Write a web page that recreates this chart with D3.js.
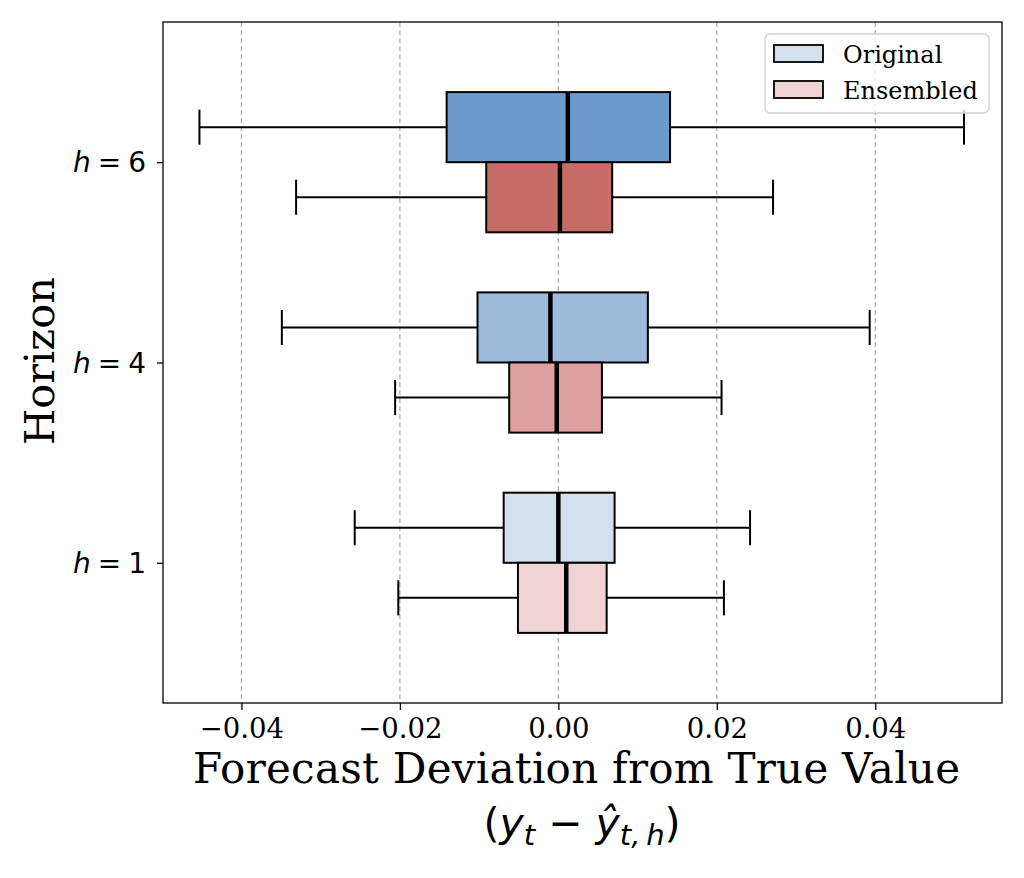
<!DOCTYPE html>
<html lang="en">
<head>
    <meta charset="UTF-8">
    <title>Forecast Deviation by Horizon</title>
    <script src="https://d3js.org/d3.v7.min.js"></script>
    <style>
        body { margin: 0; background: #fff; }
        svg { display: block; }
        .serif { font-family: "DejaVu Serif", serif; }
        .sans { font-family: "DejaVu Sans", sans-serif; }
    </style>
</head>
<body>
<svg width="1024" height="878"></svg>
<script>
    // horizons, top to bottom, and their position on the category axis
    const horizons = ["6", "4", "1"];
    const positions = [3, 2, 1];

    // [lower whisker, Q1, median, Q3, upper whisker]
    const originalStats = [
        [-0.0453, -0.0141, 0.0012, 0.0141, 0.0512],
        [-0.0349, -0.0102, -0.0010, 0.0113, 0.0393],
        [-0.0257, -0.0069, 0.0000, 0.0071, 0.0242]
    ];
    const ensembledStats = [
        [-0.0331, -0.0091, 0.0002, 0.0068, 0.0271],
        [-0.0206, -0.0062, -0.0002, 0.0055, 0.0206],
        [-0.0202, -0.0051, 0.0010, 0.0061, 0.0209]
    ];
    const originalColors = ["#6a9bcb", "#9dbcdc", "#d3e0f0"];
    const ensembledColors = ["#c86c67", "#dda09e", "#f0d3d4"];

    const xTicks = [-0.04, -0.02, 0.00, 0.02, 0.04];
    const legendLabels = ["Original", "Ensembled"];

    const svg = d3.select("svg");
    const margin = {top: 22, right: 22, bottom: 175, left: 163};
    const width = 1024 - margin.left - margin.right;
    const height = 878 - margin.top - margin.bottom;
    const g = svg.append("g").attr("transform", `translate(${margin.left},${margin.top})`);

    const x = d3.scaleLinear().domain([-0.0499, 0.0560]).range([0, width]);
    const y = d3.scaleLinear().domain([0.3, 3.7]).range([height, 0]);
    const boxW = 0.35; // box thickness in category units

    // vertical dashed grid
    g.selectAll(".grid").data(xTicks).enter().append("line")
        .attr("x1", d => x(d)).attr("x2", d => x(d))
        .attr("y1", 0).attr("y2", height)
        .attr("stroke", "#b0b0b0").attr("stroke-width", 1.3)
        .attr("stroke-dasharray", "5,3");

    // one box per series and horizon
    function drawBoxes(stats, colors, offset) {
        stats.forEach((s, i) => {
            const c = positions[i] + offset; // centre of this box
            const top = y(c + boxW / 2), bot = y(c - boxW / 2), mid = y(c);
            const capTop = y(c + boxW / 4), capBot = y(c - boxW / 4);
            const bg = g.append("g");
            // whiskers
            bg.append("line").attr("x1", x(s[0])).attr("x2", x(s[1])).attr("y1", mid).attr("y2", mid);
            bg.append("line").attr("x1", x(s[3])).attr("x2", x(s[4])).attr("y1", mid).attr("y2", mid);
            bg.append("line").attr("x1", x(s[0])).attr("x2", x(s[0])).attr("y1", capTop).attr("y2", capBot);
            bg.append("line").attr("x1", x(s[4])).attr("x2", x(s[4])).attr("y1", capTop).attr("y2", capBot);
            bg.selectAll("line").attr("stroke", "#000").attr("stroke-width", 2);
            // box
            bg.append("rect")
                .attr("x", x(s[1])).attr("y", top)
                .attr("width", x(s[3]) - x(s[1])).attr("height", bot - top)
                .attr("fill", colors[i]).attr("stroke", "#000").attr("stroke-width", 2);
            // median
            bg.append("line")
                .attr("x1", x(s[2])).attr("x2", x(s[2]))
                .attr("y1", top).attr("y2", bot)
                .attr("stroke", "#000").attr("stroke-width", 4.5);
        });
    }
    drawBoxes(originalStats, originalColors, boxW / 2);
    drawBoxes(ensembledStats, ensembledColors, -boxW / 2);

    // frame
    g.append("rect").attr("width", width).attr("height", height)
        .attr("fill", "none").attr("stroke", "#000").attr("stroke-width", 1.3);

    // x axis
    const xAxis = g.append("g")
        .attr("transform", `translate(0,${height})`)
        .call(d3.axisBottom(x).tickValues(xTicks).tickSize(7).tickPadding(8)
            .tickFormat(d => d3.format(".2f")(d).replace("-", "\u2212")));
    xAxis.select(".domain").remove();
    xAxis.selectAll("line").attr("stroke-width", 1.3);
    xAxis.selectAll("text").attr("class", "serif").attr("font-size", 27.5).attr("fill", "#000");

    // y axis with h = n labels
    const yAxis = g.append("g").call(d3.axisLeft(y).tickValues(positions).tickSize(6).tickFormat(""));
    yAxis.select(".domain").remove();
    yAxis.selectAll("line").attr("stroke-width", 1.3);
    positions.forEach((p, i) => {
        const t = g.append("text").attr("class", "sans")
            .attr("x", -17).attr("y", y(p)).attr("dy", "0.36em")
            .attr("text-anchor", "end").attr("font-size", 28).attr("fill", "#000");
        t.append("tspan").attr("font-style", "italic").text("h");
        t.append("tspan").text("\u2005=\u2005" + horizons[i]);
    });

    // axis titles
    svg.append("text").attr("class", "serif")
        .attr("transform", `translate(54,361) rotate(-90)`)
        .attr("text-anchor", "middle").attr("font-size", 41.5).text("Horizon");

    svg.append("text").attr("class", "serif")
        .attr("x", 576.5).attr("y", 783)
        .attr("text-anchor", "middle").attr("font-size", 42)
        .attr("textLength", 767).attr("lengthAdjust", "spacing")
        .text("Forecast Deviation from True Value");

    const sub = svg.append("text").attr("class", "sans")
        .attr("x", 582).attr("y", 837)
        .attr("text-anchor", "middle").attr("font-size", 41);
    sub.append("tspan").text("(");
    sub.append("tspan").attr("font-style", "italic").text("y");
    sub.append("tspan").attr("font-style", "italic").attr("font-size", 29).attr("dy", 8).text("t");
    sub.append("tspan").attr("dy", -8).text(" \u2212 ");
    sub.append("tspan").attr("font-style", "italic").text("\u0177");
    sub.append("tspan").attr("font-style", "italic").attr("font-size", 29).attr("dy", 8).text("t,\u2009h");
    sub.append("tspan").attr("dy", -8).text(")");

    // legend
    const lg = svg.append("g").attr("transform", "translate(765,34)");
    lg.append("rect").attr("width", 224).attr("height", 79).attr("rx", 5)
        .attr("fill", "#fff").attr("fill-opacity", 0.8)
        .attr("stroke", "#d0d0d0").attr("stroke-width", 1.3);
    const legendColors = [originalColors[2], ensembledColors[2]];
    legendLabels.forEach((lab, i) => {
        lg.append("rect").attr("x", 9).attr("y", 11 + i * 36).attr("width", 49).attr("height", 17)
            .attr("fill", legendColors[i]).attr("stroke", "#000").attr("stroke-width", 1.8);
        lg.append("text").attr("class", "serif").attr("x", 78).attr("y", 28.5 + i * 36)
            .attr("font-size", 24).text(lab);
    });
</script>
</body>
</html>
